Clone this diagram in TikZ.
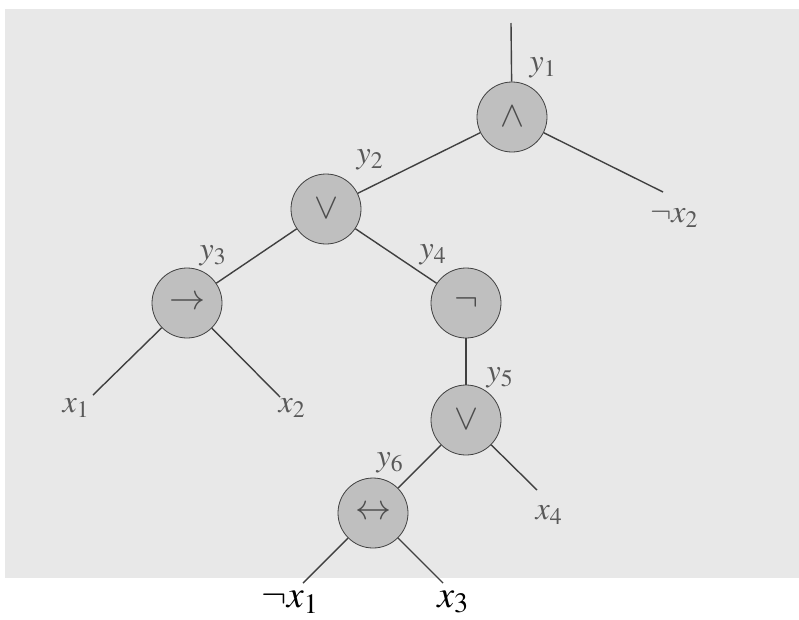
\documentclass[tikz,border=0pt]{standalone}
\usepackage{mathptmx}
\begin{document}
\begin{tikzpicture}[x=1pt,y=-1pt,
  op/.style={circle,draw=black!75,line width=0.8pt,fill=black!25,minimum size=70pt,inner sep=0pt,font=\fontsize{36}{38}\selectfont,text=black!70},
  edge/.style={draw=black!75,line width=1.4pt},
  lab/.style={font=\fontsize{32}{34}\selectfont,text=black!65,inner sep=0pt},
  bot/.style={font=\fontsize{38}{40}\selectfont,text=black,inner sep=0pt}]
\useasboundingbox (0,0) rectangle (799,619);
\fill[black!9] (5,9) rectangle (799,578);
% operator nodes
\node[op] (n1) at (512,117) {$\wedge$};
\node[op] (n2) at (326,209) {$\vee$};
\node[op] (n3) at (187,303) {$\rightarrow$};
\node[op] (n4) at (466,303) {$\neg$};
\node[op] (n5) at (466,420) {$\vee$};
\node[op] (n6) at (373,513) {$\leftrightarrow$};
% free ends
\coordinate (top) at (511,23);
\coordinate (e2) at (663,192);
\coordinate (e11) at (93,395);
\coordinate (e12) at (280,397);
\coordinate (e4) at (537,490);
\coordinate (e61) at (303,583);
\coordinate (e62) at (443,583);
% connectors
\draw[edge] (top) -- (n1);
\draw[edge] (n1) -- (n2);
\draw[edge] (n1) -- (e2);
\draw[edge] (n2) -- (n3);
\draw[edge] (n2) -- (n4);
\draw[edge] (n3) -- (e11);
\draw[edge] (n3) -- (e12);
\draw[edge] (n4) -- (n5);
\draw[edge] (n5) -- (n6);
\draw[edge] (n5) -- (e4);
\draw[edge] (n6) -- (e61);
\draw[edge] (n6) -- (e62);
% labels
\node[lab] (l1) at (543,68) {$y_1$};
\node[lab] (l2) at (370,160) {$y_2$};
\node[lab] (l3) at (213,256) {$y_3$};
\node[lab] (l4) at (433,255) {$y_4$};
\node[lab] (l5) at (500,378) {$y_5$};
\node[lab] (l6) at (390,463) {$y_6$};
\node[lab] (t2) at (674,218) {$\neg x_2$};
\node[lab] (t11) at (76,408) {$x_1$};
\node[lab] (t12) at (292,408) {$x_2$};
\node[lab] (t4) at (549,515) {$x_4$};
\node[bot] (b1) at (290,602) {$\neg x_1$};
\node[bot] (b3) at (453,602) {$x_3$};
\end{tikzpicture}
\end{document}
